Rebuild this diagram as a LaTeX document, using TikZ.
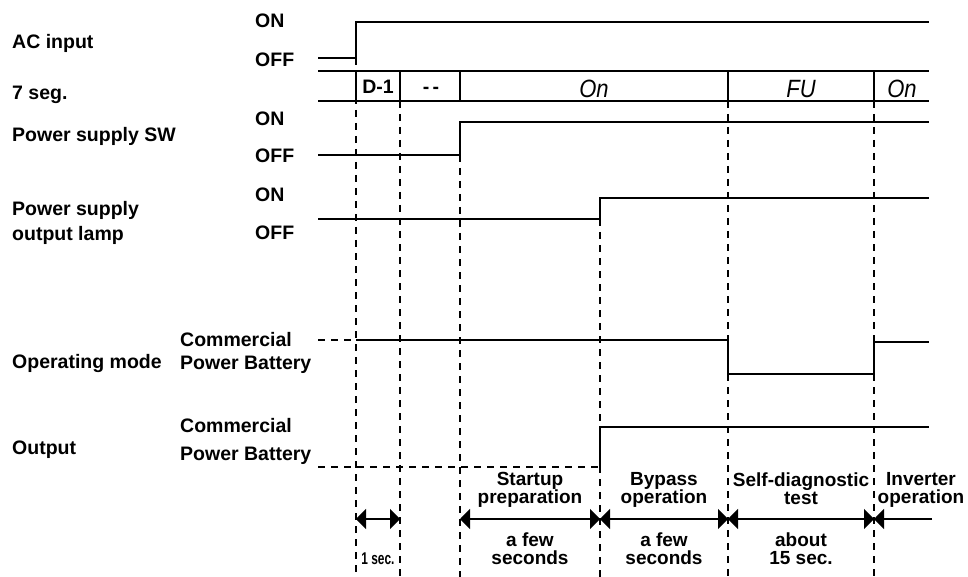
\documentclass[tikz,border=0pt]{standalone}
\usepackage{fontspec}
\setmainfont{Liberation Sans}
\usetikzlibrary{arrows.meta}
\begin{document}
\begin{tikzpicture}[x=1pt,y=-1pt,
  lbl/.style={font=\bfseries\fontsize{19.5}{18}\selectfont, inner sep=0pt, anchor=base west},
  clbl/.style={font=\bfseries\fontsize{19.5}{18}\selectfont, inner sep=0pt, anchor=base},
  twol/.style={font={\bfseries\fontsize{19}{18}\selectfont\lineskiplimit=-20pt}, inner sep=0pt, align=center, anchor=north},
  lefttwo/.style={inner sep=0pt, align=left, anchor=north west},
  seg/.style={font=\itshape\fontsize{25}{25}\selectfont, inner sep=0pt, anchor=base},
  sig/.style={line width=1.6pt},
  guide/.style={line width=1.2pt, dash pattern=on 7pt off 6pt},
  dim/.style={line width=2pt, {Triangle[length=10pt,width=20pt]}-{Triangle[length=10pt,width=20pt]}},
  dimr/.style={line width=2pt, -{Triangle[length=10pt,width=20pt]}},
]
\useasboundingbox (0,0) rectangle (968,577);

% vertical dashed guides
\draw[guide] (356,58) -- (356,577);
\draw[guide] (400,101) -- (400,577);
\draw[guide] (460,155) -- (460,577);
\draw[guide] (600,219) -- (600,577);
\draw[guide] (728,101) -- (728,577);
\draw[guide] (874,101) -- (874,577);

% AC input
\draw[sig] (318,58) -- (356,58) -- (356,22) -- (929,22);
% 7 seg
\draw[sig] (318,71) -- (929,71);
\draw[sig] (318,101) -- (929,101);
\foreach \x in {356,400,460,728,874} \draw[sig] (\x,71) -- (\x,101);
% Power supply SW
\draw[sig] (318,155) -- (460,155) -- (460,122) -- (929,122);
% Power supply output lamp
\draw[sig] (318,219) -- (600,219) -- (600,198) -- (929,198);
% Operating mode
\draw[guide] (318,340) -- (356,340);
\draw[sig] (356,340) -- (728,340) -- (728,374) -- (874,374) -- (874,342) -- (929,342);
% Output
\draw[guide] (318,467) -- (600,467);
\draw[sig] (600,467) -- (600,427) -- (929,427);

% left labels
\node[lbl] (acin) at (12,48.3) {AC input};
\node[lbl] (seven) at (12,99.3) {7 seg.};
\node[lbl] (psw) at (12,141.7) {Power supply SW};
\node[lefttwo, font={\bfseries\fontsize{19.5}{25}\selectfont}] (plamp) at (12,201) {Power supply\\output lamp};
\node[lbl] (opm) at (12,368) {Operating mode};
\node[lbl] (outp) at (12,454) {Output};

\node[lbl] (on1) at (255,27.3) {ON};
\node[lbl] (off1) at (255,66.7) {OFF};
\node[lbl] (on2) at (255,126) {ON};
\node[lbl] (off2) at (255,162.7) {OFF};
\node[lbl] (on3) at (255,202) {ON};
\node[lbl] (off3) at (255,239.3) {OFF};
\node[lefttwo, font={\bfseries\fontsize{19.5}{22.3}\selectfont}] (mode1) at (180,332.6) {Commercial\\Power Battery};
\node[lefttwo, font={\bfseries\fontsize{19.5}{27.3}\selectfont}] (mode2) at (180,418.6) {Commercial\\Power Battery};

% 7 seg texts
\node[clbl] (d1) at (378,93.3) {D-1};
\node[clbl] (dd) at (431,93.3) {-\,-};
\node[seg] (on7a) at (594,97.5) {\scalebox{0.88}[1]{On}};
\node[seg] (fu7) at (801,97.5) {\scalebox{0.88}[1]{FU}};
\node[seg] (on7b) at (902,97.5) {\scalebox{0.88}[1]{On}};

% duration arrows
\coordinate (a0) at (356,519);
\coordinate (a1) at (400,519);
\coordinate (a2) at (460,519);
\coordinate (a3) at (600,519);
\coordinate (a4) at (728,519);
\coordinate (a5) at (874,519);
\coordinate (a6) at (932,519);
\draw[dim] (a0) -- (a1);
\draw[dim] (a2) -- (a3);
\draw[dim] (a3) -- (a4);
\draw[dim] (a4) -- (a5);
\draw[dimr] (a6) -- (a5);

% bottom labels
\node[twol] (st) at (530,472.5) {Startup\\preparation};
\node[twol] (stt) at (530,532.5) {a few\\seconds};
\node[twol] (by) at (664,472.5) {Bypass\\operation};
\node[twol] (byt) at (664,532.5) {a few\\seconds};
\node[twol] (sd) at (801,472.5) {Self-diagnostic\\test};
\node[twol] (sdt) at (801,532.5) {about\\15 sec.};
\node[twol] (iv) at (921,472.5) {Inverter\\operation};
\node[clbl, font=\bfseries\fontsize{17}{17}\selectfont] (onesec) at (378,564) {\scalebox{0.7}[1]{1 sec.}};
\end{tikzpicture}
\end{document}
